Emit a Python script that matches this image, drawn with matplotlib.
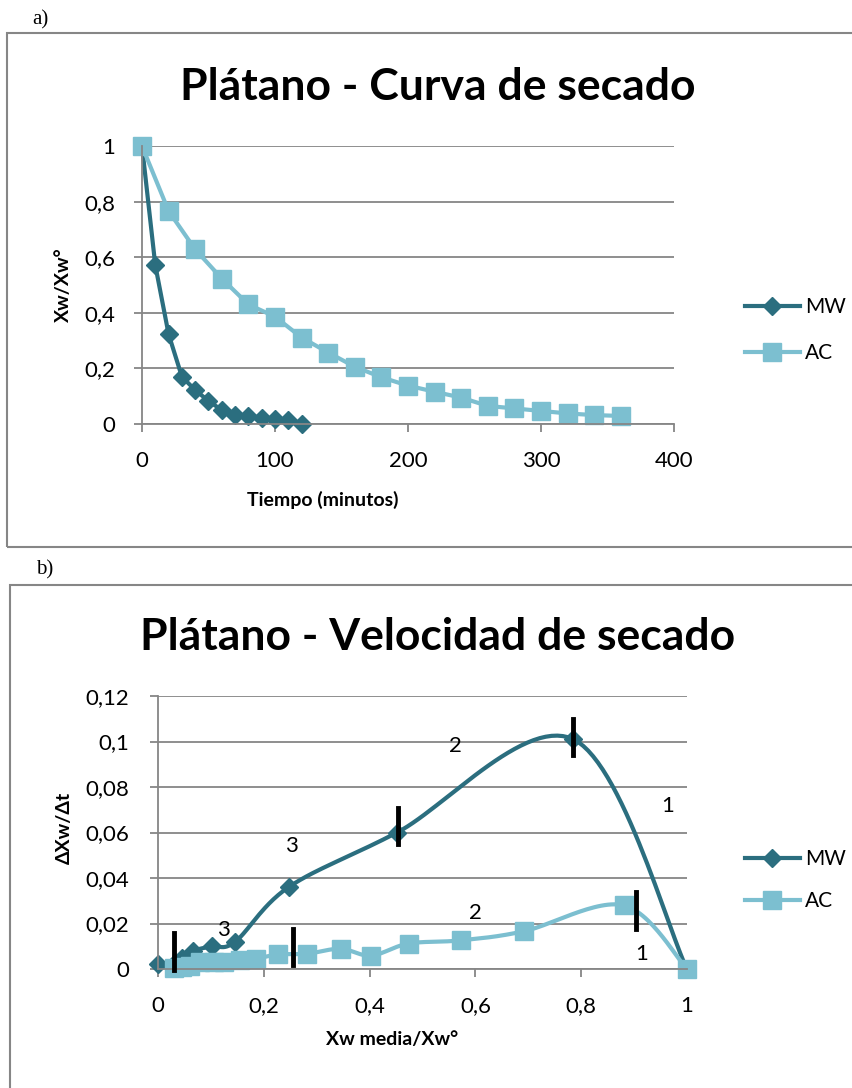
import numpy as np
import matplotlib
matplotlib.use('Agg')
import matplotlib.pyplot as plt
from matplotlib.patches import Rectangle

plt.rcParams['font.family'] = ['Lato', 'DejaVu Sans']

# --- a) curva de secado ---
t_mw = [0, 10, 20, 30, 40, 50, 60, 70, 80, 90, 100, 110, 120]
xw_mw = [1.0, 0.571, 0.323, 0.170, 0.122, 0.083, 0.050, 0.032, 0.029, 0.023, 0.019, 0.014, 0.0]
t_ac = [0, 20, 40, 60, 80, 100, 120, 140, 160, 180, 200, 220, 240, 260, 280, 300, 320, 340, 360]
xw_ac = [1.0, 0.766, 0.628, 0.523, 0.430, 0.386, 0.311, 0.257, 0.206, 0.168, 0.138,
         0.116, 0.095, 0.065, 0.056, 0.047, 0.038, 0.032, 0.029]

# --- b) velocidad de secado ---
xm_mw = [0.0, 0.03, 0.045, 0.066, 0.102, 0.146, 0.247, 0.452, 0.785, 1.0]
v_mw = [0.002, 0.002, 0.005, 0.008, 0.010, 0.012, 0.036, 0.060, 0.101, 0.0]
xm_ac = [0.03, 0.045, 0.06, 0.08, 0.105, 0.125, 0.155, 0.185, 0.227, 0.282, 0.345,
         0.403, 0.474, 0.573, 0.692, 0.880, 1.0]
v_ac = [0.0005, 0.001, 0.0015, 0.003, 0.003, 0.003, 0.004, 0.0045, 0.0064, 0.0067, 0.0089,
        0.0059, 0.0112, 0.0126, 0.0166, 0.028, 0.0]

# limites de etapas (barras negras) y numeros de etapa
bar_x = [0.031, 0.255, 0.454, 0.785, 0.903]
bar_lo = [-0.0006, 0.0016, 0.0548, 0.094, 0.0177]
bar_hi = [0.016, 0.0177, 0.0709, 0.110, 0.0338]
lab_txt = ['2', '1', '3', '3', '2', '1']
lab_x = [0.562, 0.964, 0.252, 0.123, 0.600, 0.914]
lab_y = [0.098, 0.0715, 0.054, 0.017, 0.0246, 0.0067]

c_mw = '#2B6E7F'
c_ac = '#7CBFD0'
c_grid = '#868686'


def suave(x, y, sx, sy, n=30):
    # curva suavizada tipo Excel (catmull-rom en coordenadas de pantalla)
    p = np.column_stack([np.asarray(x) * sx, np.asarray(y) * sy])
    out = []
    for i in range(len(p) - 1):
        p0 = p[i - 1] if i > 0 else p[i]
        p1 = p[i]
        p2 = p[i + 1]
        p3 = p[i + 2] if i + 2 < len(p) else p[i + 1]
        c1 = p1 + (p2 - p0) / 6
        c2 = p2 - (p3 - p1) / 6
        s = np.linspace(0, 1, n)[:, None]
        seg = (1 - s) ** 3 * p1 + 3 * (1 - s) ** 2 * s * c1 + 3 * (1 - s) * s ** 2 * c2 + s ** 3 * p2
        out.append(seg)
    out = np.vstack(out)
    return out[:, 0] / sx, out[:, 1] / sy


def estilo(ax):
    ax.grid(axis='y', color=c_grid, lw=1.3)
    ax.set_axisbelow(True)
    for s in ['top', 'right']:
        ax.spines[s].set_visible(False)
    for s in ['left', 'bottom']:
        ax.spines[s].set_color(c_grid)
        ax.spines[s].set_linewidth(1.3)
    ax.tick_params(colors=c_grid, labelcolor='black', labelsize=16, width=1.3, length=5.5)


fig = plt.figure(figsize=(8.53, 10.88), dpi=100)

fig.add_artist(Rectangle((7 / 853, 1 - 547 / 1088), 1.0, 514 / 1088, transform=fig.transFigure,
                         fill=False, ec=c_grid, lw=1.5))
fig.add_artist(Rectangle((10 / 853, -0.02), 1.0, 1 - 585 / 1088 + 0.02, transform=fig.transFigure,
                         fill=False, ec=c_grid, lw=1.5))
fig.text(40 / 853, 1 - 20 / 1088, 'a)', family='Liberation Serif', fontsize=15, ha='center', va='center')
fig.text(45 / 853, 1 - 570 / 1088, 'b)', family='Liberation Serif', fontsize=15, ha='center', va='center')

leg_kw = dict(frameon=False, fontsize=15, handlelength=2.6, borderpad=0, handletextpad=0.25,
              bbox_transform=fig.transFigure, loc='center left')

# a)
ax1 = fig.add_axes([142 / 853, 1 - 424 / 1088, 532 / 853, 278 / 1088])
ax1.plot(t_mw, xw_mw, color=c_mw, lw=3, marker='D', ms=9, label='MW', clip_on=False)
ax1.plot(t_ac, xw_ac, color=c_ac, lw=3, marker='s', ms=13, label='AC', clip_on=False)
ax1.set_xlim(0, 400)
ax1.set_ylim(0, 1)
ax1.set_xticks([0, 100, 200, 300, 400])
ax1.set_yticks([0, 0.2, 0.4, 0.6, 0.8, 1.0])
ax1.set_yticklabels(['0', '0,2', '0,4', '0,6', '0,8', '1'])
estilo(ax1)
ax1.tick_params(axis='x', pad=14)
ax1.tick_params(axis='y', pad=14)
fig.text(438 / 853, 1 - 87 / 1088, 'Plátano - Curva de secado', fontsize=32, fontweight='bold',
         ha='center', va='center')
fig.text(63 / 853, 1 - 285 / 1088, 'Xw/Xw°', fontsize=14, fontweight='bold', rotation=90,
         ha='center', va='center')
fig.text(323 / 853, 1 - 500 / 1088, 'Tiempo (minutos)', fontsize=14, fontweight='bold',
         ha='center', va='center')
ax1.legend(bbox_to_anchor=(735 / 853, 1 - 330 / 1088), labelspacing=1.25, **leg_kw)

# b)
ax2 = fig.add_axes([158 / 853, 1 - 969 / 1088, 529 / 853, 273 / 1088])
sx, sy = 529, 273 / 0.12
xs, ys = suave(xm_mw, v_mw, sx, sy)
ax2.plot(xs, ys, color=c_mw, lw=3, clip_on=False)
ax2.plot(xm_mw, v_mw, ls='none', color=c_mw, marker='D', ms=9, clip_on=False)
xs, ys = suave(xm_ac, v_ac, sx, sy)
ax2.plot(xs, ys, color=c_ac, lw=3, clip_on=False)
ax2.plot(xm_ac, v_ac, ls='none', color=c_ac, marker='s', ms=13, clip_on=False)
ax2.plot([], [], color=c_mw, lw=3, marker='D', ms=9, label='MW')
ax2.plot([], [], color=c_ac, lw=3, marker='s', ms=13, label='AC')
for x, lo, hi in zip(bar_x, bar_lo, bar_hi):
    ax2.plot([x, x], [lo, hi], color='black', lw=3.5, clip_on=False, zorder=5)
for s, x, y in zip(lab_txt, lab_x, lab_y):
    ax2.text(x, y, s, fontsize=16, ha='center', va='center', zorder=6)
ax2.set_xlim(0, 1)
ax2.set_ylim(0, 0.12)
ax2.set_xticks([0, 0.2, 0.4, 0.6, 0.8, 1.0])
ax2.set_xticklabels(['0', '0,2', '0,4', '0,6', '0,8', '1'])
ax2.set_yticks([0, 0.02, 0.04, 0.06, 0.08, 0.1, 0.12])
ax2.set_yticklabels(['0', '0,02', '0,04', '0,06', '0,08', '0,1', '0,12'])
estilo(ax2)
ax2.tick_params(axis='x', pad=14)
ax2.tick_params(axis='y', pad=15)
fig.text(438 / 853, 1 - 637 / 1088, 'Plátano - Velocidad de secado', fontsize=32, fontweight='bold',
         ha='center', va='center')
fig.text(64 / 853, 1 - 828 / 1088, 'ΔXw/Δt', fontsize=14, fontweight='bold', rotation=90,
         ha='center', va='center')
fig.text(392 / 853, 1 - 1040 / 1088, 'Xw media/Xw°', fontsize=14, fontweight='bold',
         ha='center', va='center')
ax2.legend(bbox_to_anchor=(735 / 853, 1 - 880 / 1088), labelspacing=1.05, **leg_kw)

fig.savefig('out.png', dpi=100)
